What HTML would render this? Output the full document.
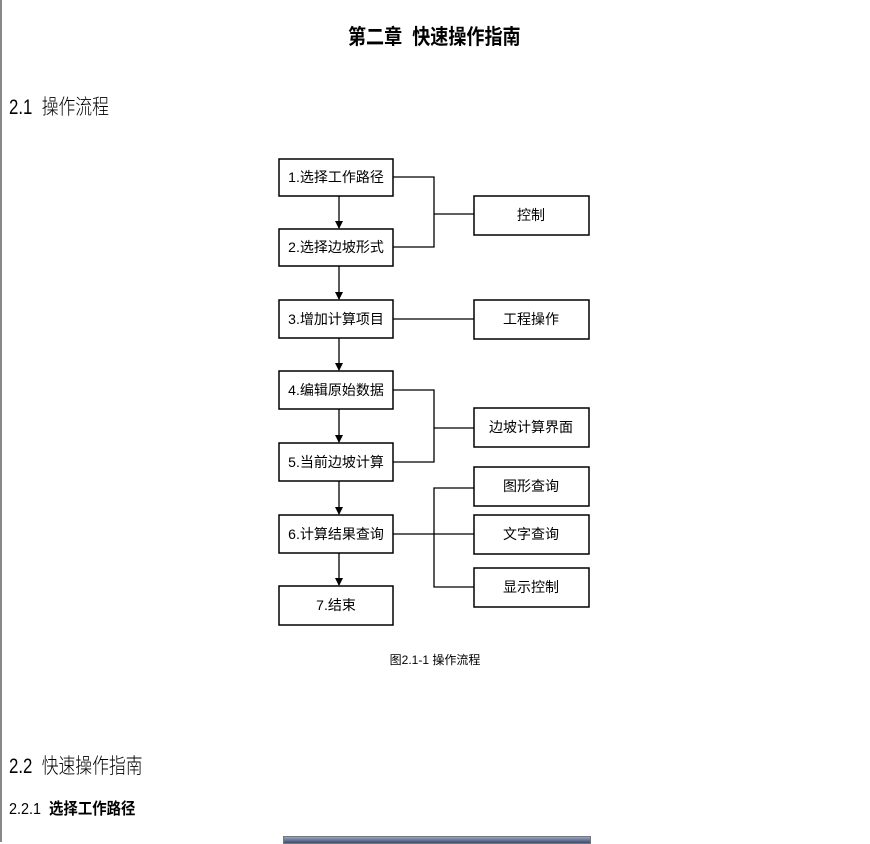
<!DOCTYPE html>
<html><head><meta charset="utf-8"><style>
body{margin:0;width:870px;height:842px;background:#fff;position:relative;overflow:hidden;font-family:"Liberation Sans","Noto Sans CJK SC",sans-serif;color:#000}
.t{position:absolute;white-space:nowrap;transform-origin:0 0}
</style></head><body>
<div style="position:absolute;left:0;top:0;width:2px;height:842px;background:#888"></div>
<div class="t" style="left:348px;top:21px;font-size:21px;font-weight:bold;transform:scaleX(0.86)">第二章&nbsp;&nbsp;快速操作指南</div>
<div class="t" style="left:9px;top:91px;font-size:21px;font-weight:300;transform:scaleX(0.8)">2.1&nbsp;&nbsp;操作流程</div>
<svg width="870" height="842" style="position:absolute;left:0;top:0" font-family="Liberation Sans, Noto Sans CJK SC, sans-serif" font-size="14">
<defs><marker id="a" markerWidth="8" markerHeight="8" refX="7" refY="4" orient="auto" markerUnits="userSpaceOnUse"><path d="M0,0 L8,4 L0,8z" fill="#000"/></marker></defs>
<g fill="#fff" stroke="#000" stroke-width="1.5">
<rect x="279" y="159" width="114" height="37"/>
<rect x="279" y="229" width="114" height="37"/>
<rect x="279" y="300" width="114" height="38"/>
<rect x="279" y="371" width="114" height="38"/>
<rect x="279" y="443" width="114" height="38"/>
<rect x="279" y="515" width="114" height="38"/>
<rect x="279" y="586" width="114" height="39"/>
<rect x="474" y="196" width="115" height="39"/>
<rect x="474" y="300" width="115" height="39"/>
<rect x="474" y="408" width="115" height="39"/>
<rect x="474" y="467" width="115" height="39"/>
<rect x="474" y="515" width="115" height="39"/>
<rect x="474" y="568" width="115" height="39"/>
</g>
<g stroke="#000" stroke-width="1.3" fill="none">
<line x1="339" y1="196" x2="339" y2="228" marker-end="url(#a)"/>
<line x1="339" y1="266" x2="339" y2="299" marker-end="url(#a)"/>
<line x1="339" y1="338" x2="339" y2="370" marker-end="url(#a)"/>
<line x1="339" y1="409" x2="339" y2="442" marker-end="url(#a)"/>
<line x1="339" y1="481" x2="339" y2="514" marker-end="url(#a)"/>
<line x1="339" y1="553" x2="339" y2="585" marker-end="url(#a)"/>
<polyline points="393,177 434,177 434,247 393,247"/>
<line x1="434" y1="214" x2="474" y2="214"/>
<line x1="393" y1="319" x2="474" y2="319"/>
<polyline points="393,390 434,390 434,462 393,462"/>
<line x1="434" y1="428" x2="474" y2="428"/>
<polyline points="474,488 434,488 434,587 474,587"/>
<line x1="393" y1="534" x2="474" y2="534"/>
</g>
<g text-anchor="middle">
<text x="336" y="182">1.选择工作路径</text>
<text x="336" y="252">2.选择边坡形式</text>
<text x="336" y="324">3.增加计算项目</text>
<text x="336" y="395">4.编辑原始数据</text>
<text x="336" y="467">5.当前边坡计算</text>
<text x="336" y="539">6.计算结果查询</text>
<text x="336" y="610">7.结束</text>
<text x="531" y="220">控制</text>
<text x="531" y="324">工程操作</text>
<text x="531" y="432">边坡计算界面</text>
<text x="531" y="491">图形查询</text>
<text x="531" y="539">文字查询</text>
<text x="531" y="592">显示控制</text>
<text x="435" y="664" font-size="12">图2.1-1 操作流程</text>
</g>
</svg>
<div class="t" style="left:9px;top:750px;font-size:21px;font-weight:300;transform:scaleX(0.8)">2.2&nbsp;&nbsp;快速操作指南</div>
<div class="t" style="left:9px;top:795px;font-size:16px;transform:scaleX(0.9)"><span style="font-weight:300">2.2.1&nbsp;&nbsp;</span><b>选择工作路径</b></div>
<div style="position:absolute;left:283px;top:836px;width:306px;height:6px;background:linear-gradient(#9aa4b8,#3a4a78);border:1px solid #777"></div>
</body></html>
